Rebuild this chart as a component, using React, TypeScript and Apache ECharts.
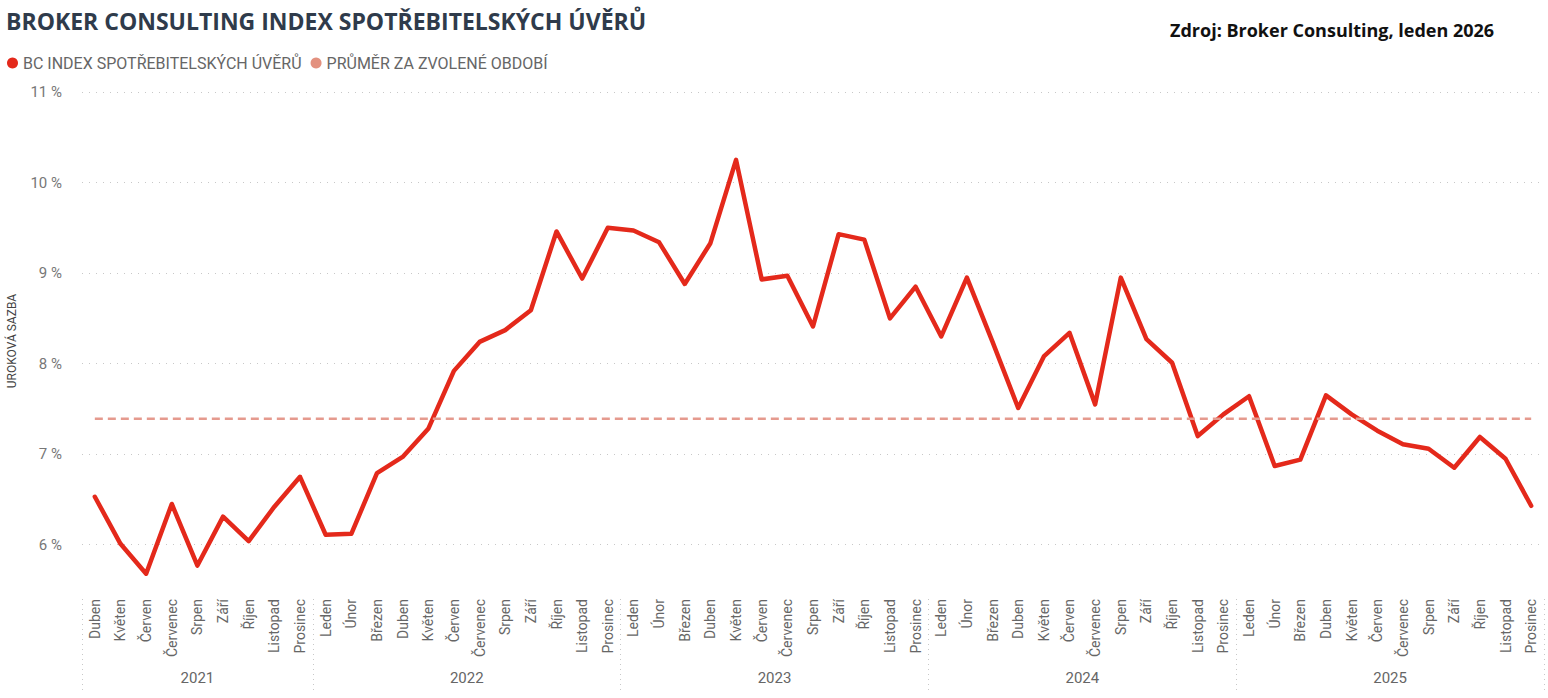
import React, { useEffect, useRef } from 'react';
import * as echarts from 'echarts';

const years = ['2021', '2022', '2023', '2024', '2025'];
const monthNames = ['Leden', 'Únor', 'Březen', 'Duben', 'Květen', 'Červen', 'Červenec', 'Srpen', 'Září', 'Říjen', 'Listopad', 'Prosinec'];
const firstMonthIndex2021 = 3; // data begin in Duben 2021

const rate2021 = [6.53, 6.01, 5.68, 6.45, 5.77, 6.31, 6.04, 6.42, 6.75];
const rate2022 = [6.11, 6.12, 6.79, 6.97, 7.28, 7.92, 8.24, 8.37, 8.59, 9.46, 8.94, 9.50];
const rate2023 = [9.47, 9.34, 8.88, 9.33, 10.25, 8.93, 8.97, 8.41, 9.43, 9.37, 8.50, 8.85];
const rate2024 = [8.30, 8.95, 8.24, 7.51, 8.08, 8.34, 7.55, 8.95, 8.27, 8.01, 7.20, 7.44];
const rate2025 = [7.64, 6.87, 6.94, 7.65, 7.44, 7.26, 7.11, 7.06, 6.85, 7.19, 6.95, 6.43];
const averageRate = 7.39;

const yMin = 5.5;
const yMax = 11;
const yStep = 0.5;

const seriesNames = ['BC INDEX SPOTŘEBITELSKÝCH ÚVĚRŮ', 'PRŮMĚR ZA ZVOLENÉ OBDOBÍ'];

const rateByYear = [rate2021, rate2022, rate2023, rate2024, rate2025];
const categories: string[] = [];
const rates: number[] = [];
const yearBoundaries: number[] = [-0.5];
const yearCenters: number[] = [];
years.forEach((y, i) => {
  const names = i === 0 ? monthNames.slice(firstMonthIndex2021) : monthNames;
  const start = categories.length;
  names.forEach((m) => categories.push(y + '|' + m));
  rates.push(...rateByYear[i]);
  const end = categories.length - 1;
  yearBoundaries.push(end + 0.5);
  yearCenters.push((start + end) / 2);
});

export default function App() {
  const ref = useRef<HTMLDivElement>(null);
  useEffect(() => {
    if (!ref.current) return;
    const chart = echarts.init(ref.current, null, { renderer: 'svg' });
    chart.setOption({
      animation: false,
      textStyle: { fontFamily: 'Roboto' },
      title: [
        {
          text: 'BROKER CONSULTING INDEX SPOTŘEBITELSKÝCH ÚVĚRŮ',
          left: 6,
          top: 9,
          padding: 0,
          textStyle: { fontFamily: 'Open Sans', fontWeight: 700, fontSize: 23, color: '#2F3B4B' },
        },
        {
          text: 'Zdroj: Broker Consulting, leden 2026',
          left: 1170,
          top: 21,
          padding: 0,
          textStyle: { fontFamily: 'Open Sans', fontWeight: 700, fontSize: 18, color: '#111111' },
        },
      ],
      legend: {
        left: 7,
        top: 55,
        padding: 0,
        icon: 'circle',
        itemWidth: 11,
        itemHeight: 11,
        itemGap: 9,
        textStyle: { fontFamily: 'Roboto', fontSize: 16, color: '#666666' },
        data: seriesNames,
      },
      grid: [
        { left: 82, right: 4, top: 92, bottom: 108, outerBoundsMode: 'none', containLabel: false },
        { left: 82, right: 4, top: 595, bottom: 8, outerBoundsMode: 'none', containLabel: false },
      ],
      xAxis: [
        {
          type: 'category',
          gridIndex: 0,
          data: categories,
          boundaryGap: true,
          axisLine: { show: false },
          axisTick: { show: false },
          axisLabel: {
            rotate: 90,
            margin: 9,
            interval: 0,
            fontSize: 14,
            color: '#666666',
            formatter: (v: string) => v.split('|')[1],
          },
        },
        {
          type: 'value',
          gridIndex: 1,
          min: yearBoundaries[0],
          max: yearBoundaries[yearBoundaries.length - 1],
          axisLine: { show: false },
          splitLine: { show: false },
          axisTick: {
            show: true,
            inside: true,
            length: 95,
            customValues: yearBoundaries,
            lineStyle: { color: '#C8C8C8', type: [1, 4] },
          },
          axisLabel: {
            inside: true,
            customValues: yearCenters,
            margin: 5,
            fontSize: 15,
            color: '#666666',
            formatter: (v: number) => years[yearCenters.indexOf(v)] ?? '',
          },
        },
      ],
      yAxis: [
        {
          type: 'value',
          gridIndex: 0,
          min: yMin,
          max: yMax,
          interval: yStep,
          name: 'UROKOVÁ SAZBA',
          nameLocation: 'middle',
          nameGap: 64,
          nameRotate: 90,
          nameTextStyle: { fontSize: 12, color: '#444444' },
          axisLine: { show: false },
          axisTick: { show: false },
          axisLabel: {
            margin: 20,
            fontSize: 15,
            color: '#777777',
            formatter: (v: number) => (Number.isInteger(v) ? v + ' %' : ''),
          },
          splitLine: {
            show: true,
            lineStyle: { color: ['rgba(0,0,0,0)', '#C8C8C8'], type: [1, 6], width: 1 },
          },
        },
        { type: 'value', gridIndex: 1, show: false },
      ],
      series: [
        {
          name: seriesNames[0],
          type: 'line',
          xAxisIndex: 0,
          yAxisIndex: 0,
          data: rates,
          symbol: 'none',
          lineStyle: { width: 4.5, color: '#E4291B', cap: 'round', join: 'round' },
          itemStyle: { color: '#E4291B' },
        },
        {
          name: seriesNames[1],
          type: 'line',
          xAxisIndex: 0,
          yAxisIndex: 0,
          data: categories.map(() => averageRate),
          symbol: 'none',
          lineStyle: { width: 2.5, color: '#E59A8E', type: [8, 5] },
          itemStyle: { color: '#E3917F' },
        },
      ],
    });
    return () => chart.dispose();
  }, []);
  return <div ref={ref} style={{ position: 'absolute', left: 0, top: 0, width: 1548, height: 698 }} />;
}
